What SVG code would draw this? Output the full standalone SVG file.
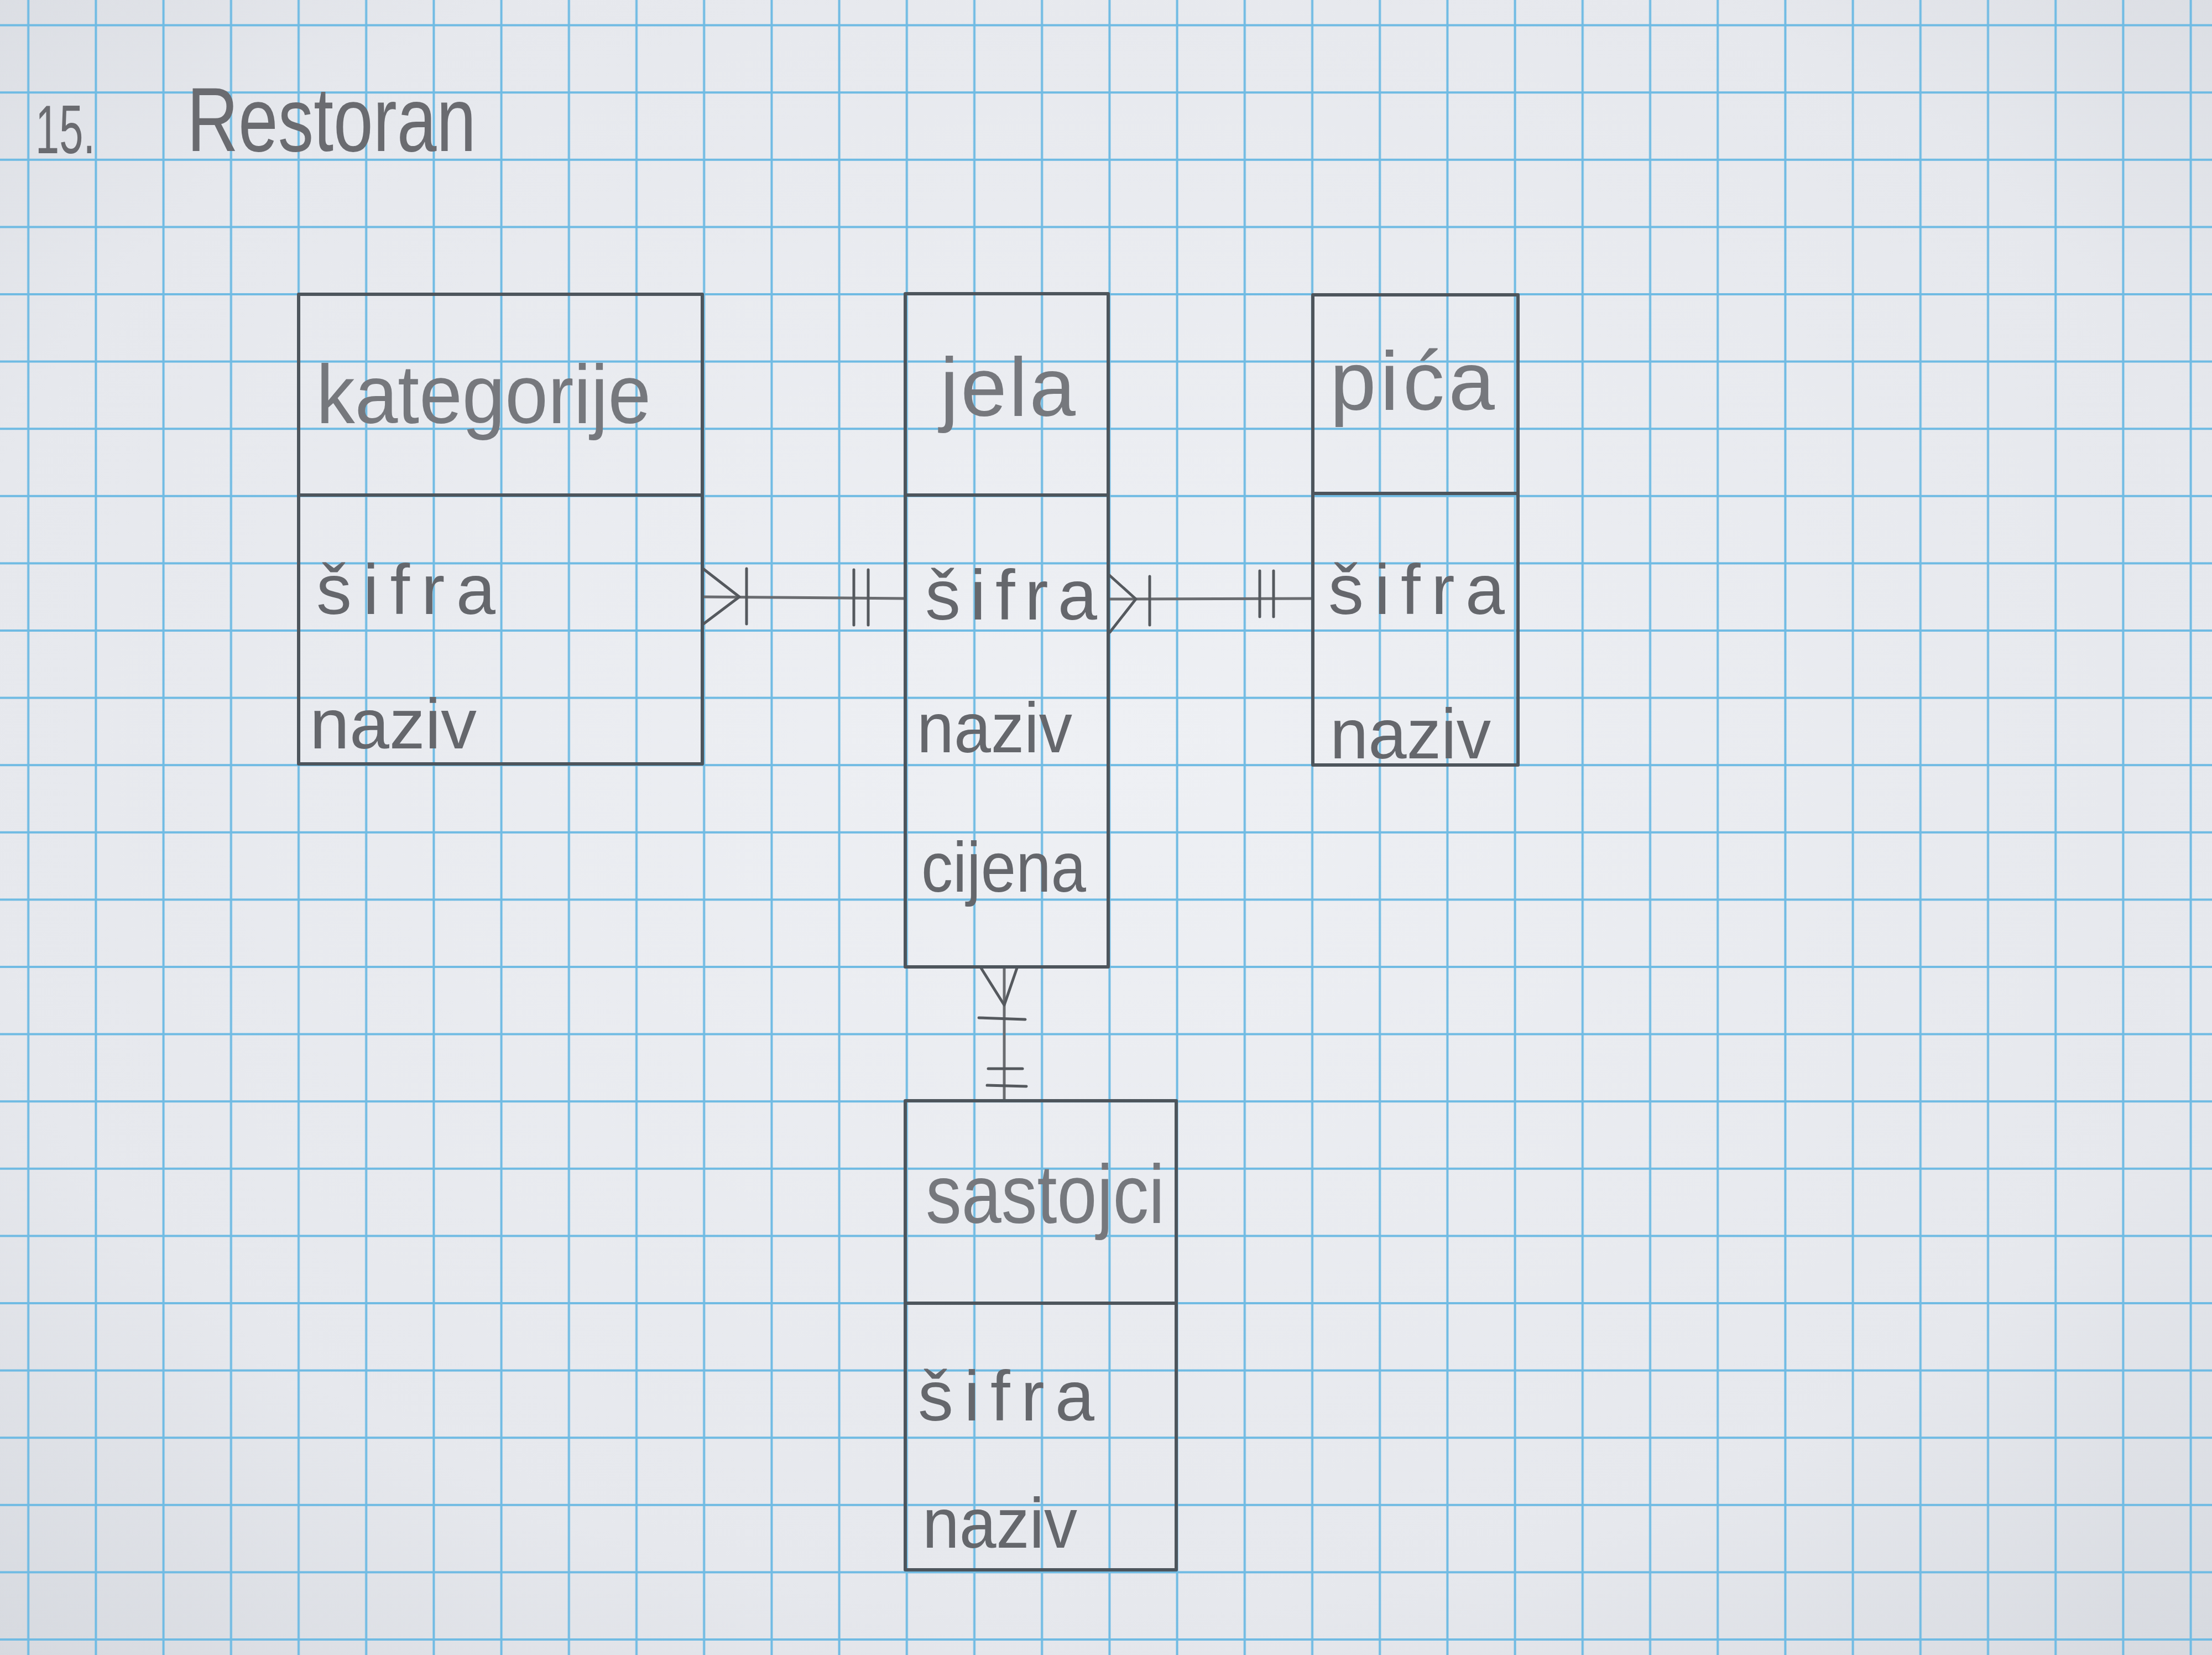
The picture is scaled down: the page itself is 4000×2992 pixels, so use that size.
<svg xmlns="http://www.w3.org/2000/svg" width="4000" height="2992" viewBox="0 0 4000 2992">
  <style>
    .box { fill: none; stroke: #4d555c; stroke-width: 6; stroke-linejoin: round; }
    .div { fill: none; stroke: #4d555c; stroke-width: 6; }
    .conn { fill: none; stroke: #6a6c70; stroke-width: 5; stroke-linecap: round; stroke-linejoin: round; }
    .mark { fill: none; stroke: #55595e; stroke-width: 5; stroke-linecap: round; stroke-linejoin: round; }
    .hd { font-family: "Liberation Sans", "DejaVu Sans", sans-serif; font-size: 150px; fill: #76787d; }
    .at { font-family: "Liberation Sans", "DejaVu Sans", sans-serif; font-size: 128px; fill: #65676c; }
    .ttl { font-family: "Liberation Sans", "DejaVu Sans", sans-serif; fill: #6a6b70; }
  </style>
  <defs>
    <radialGradient id="paper" cx="0.5" cy="0.45" r="0.75">
      <stop offset="0" stop-color="#eef0f4"/>
      <stop offset="0.7" stop-color="#e6e8ed"/>
      <stop offset="1" stop-color="#d6d9df"/>
    </radialGradient>
    <pattern id="grid" patternUnits="userSpaceOnUse" x="-9.9" y="-15.2" width="122.2" height="121.6">
      <path d="M61.1 0V121.6M0 60.8H122.2" stroke="#70bbe3" stroke-width="4" fill="none"/>
    </pattern>
  </defs>

  <g id="background">
    <rect x="0" y="0" width="4000" height="2992" fill="url(#paper)"/>
    <rect x="0" y="0" width="4000" height="2992" fill="url(#grid)"/>
  </g>

  <g id="title">
    <text class="ttl" x="64" y="277" font-size="125" textLength="108" lengthAdjust="spacingAndGlyphs">15.</text>
    <text class="ttl" x="338" y="273" font-size="165" textLength="523" lengthAdjust="spacingAndGlyphs">Restoran</text>
  </g>

  <g id="connectors">
    <!-- kategorije (many) to jela (one) -->
    <path class="conn" d="M1270 1079 L1637 1082"/>
    <path class="mark" d="M1270 1027 L1337 1079 L1272 1128"/>
    <path class="mark" d="M1350 1028 L1350 1128"/>
    <path class="mark" d="M1544 1030 L1544 1130 M1570 1030 L1570 1130"/>
    <!-- jela (many) to pica (one) -->
    <path class="conn" d="M2004 1083 L2374 1082"/>
    <path class="mark" d="M2004 1038 L2054 1083 L2007 1143"/>
    <path class="mark" d="M2079 1042 L2079 1130"/>
    <path class="mark" d="M2278 1032 L2278 1115 M2303 1032 L2303 1115"/>
    <!-- jela (many) to sastojci (one) -->
    <path class="conn" d="M1816 1748 L1816 1990"/>
    <path class="mark" d="M1774 1750 L1816 1817 L1839 1750"/>
    <path class="mark" d="M1770 1840 L1854 1843"/>
    <path class="mark" d="M1787 1932 L1849 1932 M1785 1962 L1856 1964"/>
  </g>

  <g id="kategorije">
    <rect class="box" x="540" y="532" width="730" height="849"/>
    <path class="div" d="M540 895 H1270"/>
    <text class="hd" x="572" y="765" textLength="605" lengthAdjust="spacingAndGlyphs">kategorije</text>
    <text class="at" x="572" y="1110" textLength="324" lengthAdjust="spacing">šifra</text>
    <text class="at" x="560" y="1353" font-size="124" textLength="302" lengthAdjust="spacingAndGlyphs">naziv</text>
  </g>

  <g id="jela">
    <rect class="box" x="1637" y="531" width="367" height="1217"/>
    <path class="div" d="M1637 895 H2004"/>
    <text class="hd" x="1700" y="752" textLength="245" lengthAdjust="spacing">jela</text>
    <text class="at" x="1673" y="1120" textLength="311" lengthAdjust="spacing">šifra</text>
    <text class="at" x="1658" y="1360" font-size="120" textLength="281" lengthAdjust="spacingAndGlyphs">naziv</text>
    <text class="at" x="1666" y="1612" font-size="118" textLength="298" lengthAdjust="spacingAndGlyphs">cijena</text>
  </g>

  <g id="pica">
    <rect class="box" x="2374" y="533" width="371" height="850"/>
    <path class="div" d="M2374 892 H2745"/>
    <text class="hd" x="2405" y="741" textLength="298" lengthAdjust="spacing">pića</text>
    <text class="at" x="2402" y="1110" textLength="319" lengthAdjust="spacing">šifra</text>
    <text class="at" x="2405" y="1371" font-size="124" textLength="291" lengthAdjust="spacingAndGlyphs">naziv</text>
  </g>

  <g id="sastojci">
    <rect class="box" x="1637" y="1990" width="490" height="848"/>
    <path class="div" d="M1637 2356 H2127"/>
    <text class="hd" x="1674" y="2211" font-size="135" textLength="432" lengthAdjust="spacingAndGlyphs">sastojci</text>
    <text class="at" x="1660" y="2568" textLength="319" lengthAdjust="spacing">šifra</text>
    <text class="at" x="1668" y="2798" font-size="120" textLength="280" lengthAdjust="spacingAndGlyphs">naziv</text>
  </g>
</svg>
